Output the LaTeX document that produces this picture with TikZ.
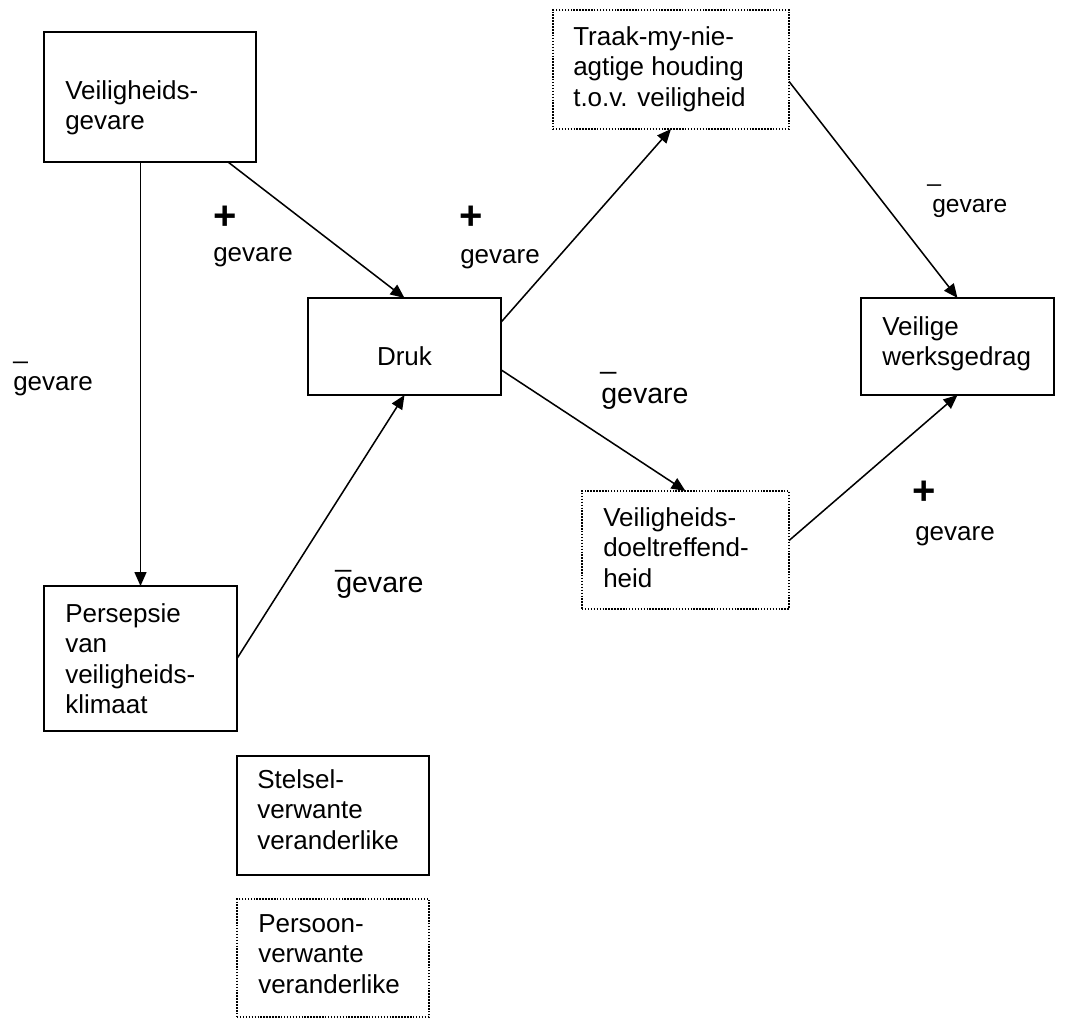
\documentclass[tikz,border=0pt]{standalone}
\usepackage{fontspec}
\setmainfont{Liberation Sans}
\usetikzlibrary{arrows.meta,calc}
\begin{document}
\begin{tikzpicture}[x=0.75pt,y=-0.75pt,
  solidbox/.style 2 args={draw,line width=1.4pt,minimum width=#1*0.75pt,minimum height=#2*0.75pt,inner sep=0pt,outer sep=0pt},
  dotbox/.style 2 args={draw,line width=1.2pt,dash pattern=on 1.1pt off 1.1pt,minimum width=#1*0.75pt,minimum height=#2*0.75pt,inner sep=0pt,outer sep=0pt},
  boxtext/.style={anchor=north west,align=left,inner sep=0pt,font=\fontsize{19.5pt}{22.7pt}\selectfont},
  lbl/.style={anchor=base west,inner sep=0pt,font=\fontsize{19.5pt}{22.7pt}\selectfont},
  lblbig/.style={anchor=base west,inner sep=0pt,font=\fontsize{21.4pt}{24pt}\selectfont},
  lblsmall/.style={anchor=base west,inner sep=0pt,font=\fontsize{18.4pt}{22pt}\selectfont},
  plus/.style={anchor=center,inner sep=0pt,font=\fontsize{30pt}{30pt}\selectfont\bfseries},
  link/.style={line width=1.15pt,-{Triangle[length=10.5pt,width=9pt]}}]
\useasboundingbox (0,0) rectangle (1078,1020);

% boxes
\node[solidbox={212}{130}] (vg) at (150,97) {};
\node[solidbox={193}{97}] (druk) at (404.5,346.5) {};
\node[dotbox={236}{119}] (traak) at (671,69.5) {};
\node[solidbox={193}{97}] (veilig) at (957.5,346.5) {};
\node[dotbox={207}{118}] (doel) at (685.5,550) {};
\node[solidbox={193}{145}] (pers) at (140.5,658.5) {};
\node[solidbox={192}{119}] (stelsel) at (333,815.5) {};
\node[dotbox={192}{118}] (persoon) at (333,958) {};

% box texts
\node[boxtext] (vgt) at (65,80.4) {Veiligheids-\\gevare};
\node[anchor=base,inner sep=0pt,font=\fontsize{19.5pt}{22.7pt}\selectfont] (drukt) at (404.5,365) {Druk};
\node[boxtext] (traakt) at (573,26.4) {Traak-my-nie-\\agtige houding\\t.o.v. veiligheid};
\node[boxtext] (veiligt) at (882,316.4) {Veilige\\werksgedrag};
\node[boxtext] (doelt) at (603,507.4) {Veiligheids-\\doeltreffend-\\heid};
\node[boxtext] (perst) at (65,603.4) {Persepsie\\van\\veiligheids-\\klimaat};
\node[boxtext] (stelselt) at (257,769.4) {Stelsel-\\verwante\\veranderlike};
\node[boxtext] (persoont) at (258,914.4) {Persoon-\\verwante\\veranderlike};

% connectors
\draw[link] (vg.south -| pers.north) -- (pers.north);
\draw[link] ($(vg.south west)!0.868!(vg.south east)$) -- (druk.north);
\draw[link] (pers.east) -- (druk.south);
\draw[link] ($(druk.north east)!0.25!(druk.south east)$) -- (traak.south);
\draw[link] ($(druk.north east)!0.74!(druk.south east)$) -- (doel.north);
\draw[link] ($(traak.north east)!0.6!(traak.south east)$) -- (veilig.north);
\draw[link] ($(doel.north east)!0.42!(doel.south east)$) -- (veilig.south);

% signs and labels
\node[plus] (p1) at (225,217.5) {+};
\node[lbl] (g1) at (213,262) {gevare};
\node[plus] (p2) at (471,217.5) {+};
\node[lbl] (g2) at (460,263) {gevare};
\node[lbl] (m3) at (13,358) {\_};
\node[lbl] (g3) at (13,390) {gevare};
\node[lblbig] (m4) at (600,368) {\_};
\node[lblbig] (g4) at (601,403) {gevare};
\node[lblbig] (m5) at (335,566) {\_};
\node[lblbig] (g5) at (336,592) {gevare};
\node[lblsmall] (m6) at (927,181) {\_};
\node[lblsmall] (g6) at (932,213) {gevare};
\node[plus] (p7) at (924,493) {+};
\node[lbl] (g7) at (915,540) {gevare};
\end{tikzpicture}
\end{document}
